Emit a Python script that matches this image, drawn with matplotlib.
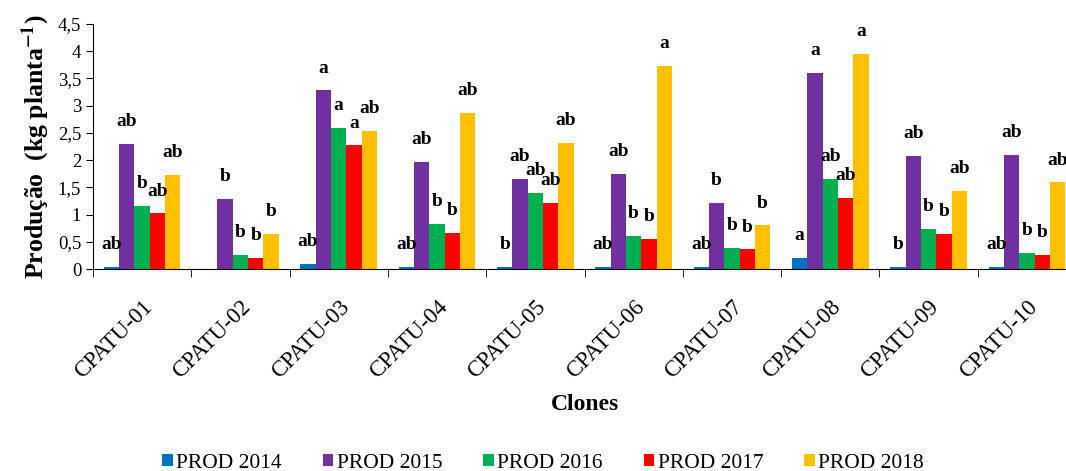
import numpy as np
import matplotlib
matplotlib.use("Agg")
import matplotlib.pyplot as plt

clones = ["CPATU-01", "CPATU-02", "CPATU-03", "CPATU-04", "CPATU-05",
          "CPATU-06", "CPATU-07", "CPATU-08", "CPATU-09", "CPATU-10"]
series = ["PROD 2014", "PROD 2015", "PROD 2016", "PROD 2017", "PROD 2018"]

prod_2014 = [0.03, 0.0, 0.10, 0.03, 0.03, 0.03, 0.03, 0.20, 0.03, 0.03]
prod_2015 = [2.29, 1.28, 3.28, 1.97, 1.65, 1.75, 1.21, 3.60, 2.07, 2.10]
prod_2016 = [1.15, 0.26, 2.59, 0.83, 1.40, 0.61, 0.39, 1.65, 0.74, 0.29]
prod_2017 = [1.02, 0.20, 2.27, 0.67, 1.21, 0.55, 0.36, 1.31, 0.64, 0.26]
prod_2018 = [1.73, 0.64, 2.54, 2.86, 2.32, 3.73, 0.80, 3.95, 1.43, 1.59]

letters_2014 = ["ab", "", "ab", "ab", "b", "ab", "ab", "a", "b", "ab"]
letters_2015 = ["ab", "b", "a", "ab", "ab", "ab", "b", "a", "ab", "ab"]
letters_2016 = ["b", "b", "a", "b", "ab", "b", "b", "ab", "b", "b"]
letters_2017 = ["ab", "b", "a", "b", "ab", "b", "b", "ab", "b", "b"]
letters_2018 = ["ab", "b", "ab", "ab", "ab", "a", "b", "a", "ab", "ab"]

colors = ["#0070C0", "#7030A0", "#00B050", "#FF0000", "#FFC000"]

values = [prod_2014, prod_2015, prod_2016, prod_2017, prod_2018]
letters = [letters_2014, letters_2015, letters_2016, letters_2017, letters_2018]

plt.rcParams["font.family"] = ["Liberation Serif", "DejaVu Serif"]
plt.rcParams["mathtext.fontset"] = "stix"

fig = plt.figure(figsize=(10.66, 4.71), dpi=100)
ax = fig.add_axes([93 / 1066, 1 - 269 / 471, 983 / 1066, 245 / 471])

x = np.arange(len(clones))
width = 0.156
for i, (name, vals, col, lets) in enumerate(zip(series, values, colors, letters)):
    pos = x + (i - 2) * width
    ax.bar(pos, vals, width=width, color=col, label=name)
    for px, v, t in zip(pos, vals, lets):
        if t:
            ax.annotate(t, (px, v), xytext=(0, 10), textcoords="offset points",
                        ha="center", va="bottom", fontsize=14, fontweight="bold")

ax.set_xlim(-0.5, len(clones) - 0.5)
ax.set_ylim(0, 4.5)
ax.set_yticks(np.arange(0, 4.51, 0.5))
ax.set_yticklabels([f"{v:g}".replace(".", ",") for v in np.arange(0, 4.51, 0.5)],
                   fontsize=13.5)
ax.set_xticks(x)
ax.set_xticklabels(clones, rotation=45, ha="right", rotation_mode="anchor",
                   fontsize=16.5)
ax.set_xticks(np.arange(-0.5, len(clones)), minor=True)
ax.tick_params(axis="x", which="major", length=0, pad=20)
ax.tick_params(axis="x", which="minor", length=6, direction="out")
ax.tick_params(axis="y", length=5, direction="out")
ax.spines["top"].set_visible(False)
ax.spines["right"].set_visible(False)

ax.set_ylabel(r"Produção  (kg planta$^{\mathbf{-1}}$)", fontsize=18.5,
              fontweight="bold", labelpad=4)
ax.set_xlabel("Clones", fontsize=17, fontweight="bold", labelpad=8)

fig.legend(loc="lower center", bbox_to_anchor=(543 / 1066, -0.045), ncol=5,
           frameon=False, fontsize=15.5, handlelength=0.5, handleheight=0.5,
           handletextpad=0.15, columnspacing=1.9)

fig.savefig("out.png", dpi=100)
